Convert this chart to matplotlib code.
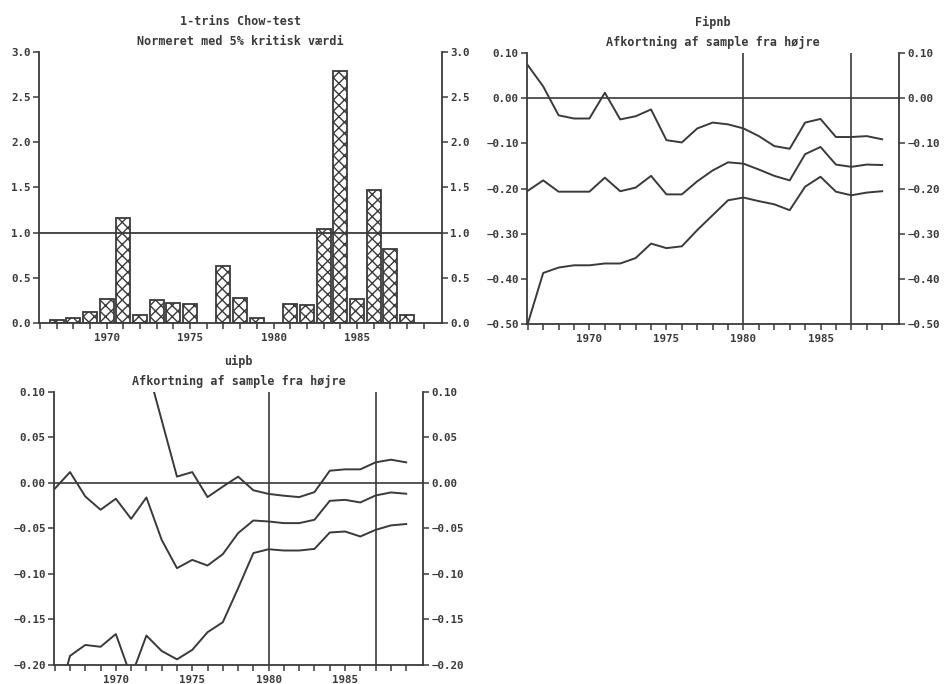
import numpy as np
import matplotlib
matplotlib.use("Agg")
import matplotlib.pyplot as plt

plt.rcParams['font.family'] = ['DejaVu Sans Mono']
plt.rcParams['font.weight'] = 'bold'
plt.rcParams['hatch.linewidth'] = 1.0
ink = '#3a3a3a'
plt.rcParams['hatch.color'] = ink

# --- Chow test bars ---
chow_years = [1967, 1968, 1969, 1970, 1971, 1972, 1973, 1974, 1975,
              1977, 1978, 1979, 1981, 1982, 1983, 1984, 1985, 1986, 1987, 1988]
chow_vals = [0.03, 0.055, 0.12, 0.26, 1.16, 0.09, 0.25, 0.22, 0.21,
             0.63, 0.28, 0.055, 0.21, 0.20, 1.04, 2.79, 0.26, 1.47, 0.82, 0.09]

# --- Fipnb ---
fip_years = list(range(1966, 1990))
fip_upper = [0.073, 0.026, -0.038, -0.045, -0.045, 0.012, -0.047, -0.040, -0.025, -0.093,
             -0.098, -0.067, -0.054, -0.058, -0.067, -0.084, -0.106, -0.112, -0.054, -0.046,
             -0.086, -0.086, -0.084, -0.091]
fip_mid = [-0.205, -0.182, -0.207, -0.207, -0.207, -0.176, -0.206, -0.198, -0.172, -0.213,
           -0.213, -0.184, -0.160, -0.142, -0.145, -0.158, -0.172, -0.182, -0.124, -0.108,
           -0.147, -0.152, -0.147, -0.148]
fip_lower = [-0.499, -0.387, -0.375, -0.370, -0.370, -0.366, -0.366, -0.354, -0.322, -0.332,
             -0.328, -0.292, -0.259, -0.226, -0.220, -0.228, -0.235, -0.248, -0.196, -0.174,
             -0.207, -0.215, -0.209, -0.206]

# --- uipb ---
uip_years = list(range(1966, 1990))
uip_upper_years = list(range(1972, 1990))
uip_upper = [0.131, 0.069, 0.007, 0.012, -0.0155, -0.004, 0.007, -0.008, -0.012, -0.014,
             -0.0155, -0.010, 0.0135, 0.015, 0.015, 0.0227, 0.0256, 0.0227]
uip_mid = [-0.0063, 0.012, -0.0148, -0.0294, -0.0173, -0.0394, -0.0159, -0.0625, -0.0936, -0.0845,
           -0.0907, -0.0782, -0.0551, -0.0412, -0.0423, -0.0441, -0.0441, -0.0404, -0.0196, -0.0185,
           -0.0214, -0.0137, -0.0104, -0.0118]
uip_lower = [-0.25, -0.190, -0.178, -0.180, -0.166, -0.213, -0.1677, -0.1846, -0.1938, -0.1834,
             -0.164, -0.153, -0.1157, -0.077, -0.0728, -0.0742, -0.0742, -0.0724, -0.0544, -0.0533,
             -0.0588, -0.0515, -0.0466, -0.0451]

year_ticks = list(range(1966, 1990))
year_labels = [str(y) if y % 5 == 0 else '' for y in year_ticks]


def style_axes(ax, yticks, fmt, title):
    ax.set_xlim(1965.95, 1990.1)
    ax.set_ylim(yticks[0], yticks[-1])
    ax.set_yticks(yticks)
    ax.set_yticklabels([fmt.format(v).replace('-', '\u2212') for v in yticks])
    ax.set_xticks(year_ticks)
    ax.set_xticklabels(year_labels)
    ax.spines['top'].set_visible(False)
    for s in ['left', 'right', 'bottom']:
        ax.spines[s].set_color(ink)
        ax.spines[s].set_linewidth(1.3)
    ax.tick_params(axis='y', direction='out', length=4, width=1.1, colors=ink,
                   labelsize=7.8, right=True, labelright=True, pad=2)
    ax.tick_params(axis='x', direction='out', length=4, width=1.1, colors=ink,
                   labelsize=7.8, pad=3)
    ax.set_title(title, fontsize=8.5, color=ink, linespacing=1.7, pad=5,
                 fontweight='bold')


fig = plt.figure(figsize=(9.45, 6.84), dpi=100)

ax1 = fig.add_axes([0.0413, 0.5278, 0.4265, 0.3962])
ax1.bar(chow_years, chow_vals, width=0.84, color='white', edgecolor=ink,
        linewidth=1.3, hatch='xxx', zorder=2)
ax1.axhline(1.0, color=ink, lw=1.3, zorder=3)
style_axes(ax1, [0.0, 0.5, 1.0, 1.5, 2.0, 2.5, 3.0], '{:.1f}',
           '1-trins Chow-test\nNormeret med 5% kritisk værdi')

ax2 = fig.add_axes([0.5577, 0.5263, 0.3937, 0.3962])
for series in (fip_upper, fip_mid, fip_lower):
    ax2.plot(fip_years, series, color=ink, lw=1.4)
ax2.axhline(0.0, color=ink, lw=1.2)
ax2.axvline(1980, color=ink, lw=1.2)
ax2.axvline(1987, color=ink, lw=1.2)
style_axes(ax2, [-0.5, -0.4, -0.3, -0.2, -0.1, 0.0, 0.1], '{:.2f}',
           'Fipnb\nAfkortning af sample fra højre')

ax3 = fig.add_axes([0.0571, 0.0278, 0.3905, 0.3991])
ax3.plot(uip_upper_years, uip_upper, color=ink, lw=1.4)
ax3.plot(uip_years, uip_mid, color=ink, lw=1.4)
ax3.plot(uip_years, uip_lower, color=ink, lw=1.4)
ax3.axhline(0.0, color=ink, lw=1.2)
ax3.axvline(1980, color=ink, lw=1.2)
ax3.axvline(1987, color=ink, lw=1.2)
style_axes(ax3, [-0.20, -0.15, -0.10, -0.05, 0.0, 0.05, 0.10], '{:.2f}',
           'uipb\nAfkortning af sample fra højre')

fig.savefig('out.png', dpi=100)
